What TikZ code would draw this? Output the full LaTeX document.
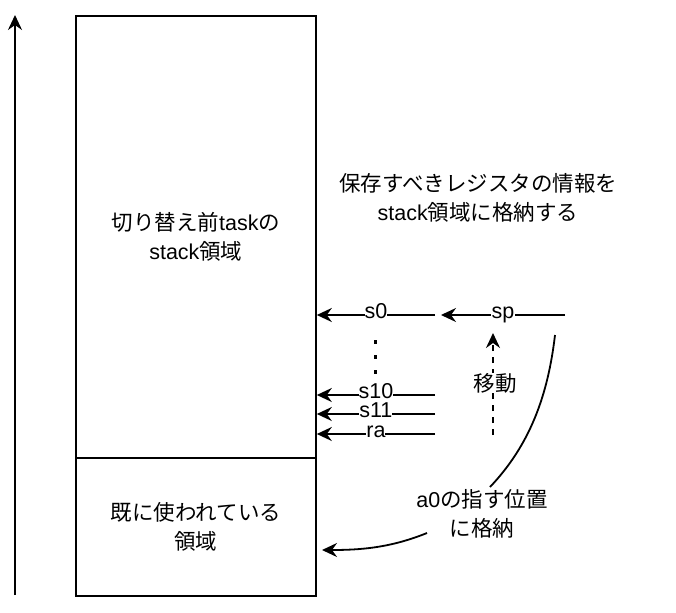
\documentclass[tikz,border=0pt]{standalone}
\usepackage{fontspec}
\setmainfont{Liberation Sans}
\newfontfamily\jp{Noto Sans CJK JP}
\usetikzlibrary{arrows.meta}

\begin{document}
\begin{tikzpicture}[x=1pt, y=-1pt, line width=1.8pt,
  font=\fontsize{21.5}{29}\selectfont,
  arr/.style={-{Stealth[length=15pt, width=14pt, inset=5pt]}},
  lbl/.style={fill=white, inner sep=0.5pt},
  reglbl/.style={fill=white, inner sep=0pt, text height=0.72em, text depth=0pt},
  region/.style={draw, minimum width=240pt, inner sep=0pt, align=center}]
  \useasboundingbox (0,0) rectangle (676,612);

  % Stack regions
  \node[region, minimum height=442pt, anchor=north west] (upper) at (75,15)
    {{\jp 切り替え前}task{\jp の}\\stack{\jp 領域}};
  \node[region, minimum height=138pt, anchor=north west] (lower) at (75,457)
    {{\jp 既に使われている}\\{\jp 領域}};

  % Address direction
  \coordinate (axb) at (15,595);
  \coordinate (axt) at (15,15);
  \draw[arr] (axb) -- (axt);

  % Caption
  \node[align=center] (note) at (478,198)
    {{\jp 保存すべきレジスタの情報を}\\stack{\jp 領域に格納する}};

  % Saved registers
  \foreach \r/\y in {s0/315, s10/395, s11/414, ra/434} {
    \coordinate (\r) at (435,\y);
    \draw[arr] (\r) -- node[reglbl] {\r} (upper.east |- \r);
  }
  \coordinate (dtop) at (375,340);
  \coordinate (dbot) at (375,376);
  \draw[line width=3pt, dash pattern=on 4pt off 11pt] (dtop) -- (dbot);

  % Stack pointer
  \coordinate (sp) at (565,315);
  \coordinate (spend) at (441,315);
  \draw[arr] (sp) -- node[lbl] {sp} (spend);

  \coordinate (mvb) at (493,435);
  \coordinate (mvt) at (493,333);
  \draw[arr, dash pattern=on 6pt off 6pt] (mvb) -- (mvt);
  \node[lbl] (move) at (495,383) {\jp 移動};

  % a0
  \node[align=center] (a0) at (482,514) {a0{\jp の指す位置}\\{\jp に格納}};
  \coordinate (c1s) at (555,335);
  \coordinate (c1e) at (490,487);
  \draw (c1s) .. controls (548,395) and (530,445) .. (c1e);
  \coordinate (c2s) at (427,533);
  \coordinate (c2e) at (322,550);
  \draw[arr] (c2s) .. controls (390,548) and (360,550) .. (c2e);
\end{tikzpicture}
\end{document}
